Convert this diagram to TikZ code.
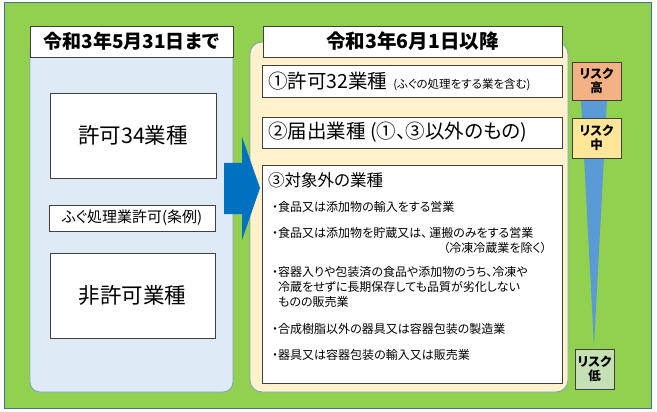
\documentclass[tikz,border=0pt]{standalone}
\usepackage{fontspec}
\setmainfont{Noto Sans CJK JP}[RawFeature=+palt]
\definecolor{bggreen}{HTML}{92D050}
\definecolor{outerblue}{HTML}{41719C}
\definecolor{panelblue}{HTML}{DEEBF7}
\definecolor{panelline}{HTML}{7F9FC7}
\definecolor{panelcream}{HTML}{FFF2CC}
\definecolor{arrowblue}{HTML}{0070C0}
\definecolor{wedgeblue}{HTML}{5B9BD5}
\definecolor{riskhigh}{HTML}{F4B183}
\definecolor{riskmid}{HTML}{FFE699}
\definecolor{risklow}{HTML}{C5E0B4}
\definecolor{boxline}{HTML}{404040}
\newcommand{\fs}[1]{\fontsize{#1}{#1}\selectfont}
\newcommand{\bul}{\makebox[6pt][c]{・}}
\begin{document}
\begin{tikzpicture}[x=1pt,y=-1pt,
  panel/.style={rounded corners=10pt, draw=panelline, line width=0.8pt, inner sep=0pt},
  wbox/.style={draw=boxline, fill=white, line width=0.9pt, inner sep=0pt, align=center},
  riskbox/.style={draw=boxline, line width=0.9pt, inner sep=0pt, align=center, font=\fs{12.5}\bfseries},
  txt/.style={inner sep=0pt, anchor=west},
  btxt/.style={inner sep=0pt, anchor=west, font=\fs{12}}]
\useasboundingbox (0,0) rectangle (657,412);
\node[draw=outerblue, fill=bggreen, line width=1pt, minimum width=647pt, minimum height=405pt, inner sep=0pt] (bg) at (327.5,205.5) {};
% panels
\node[panel, fill=panelblue, minimum width=203pt, minimum height=351pt] (lpanel) at (131.5,216.5) {};
\node[panel, fill=panelcream, rounded corners=12pt, minimum width=318pt, minimum height=350pt] (rpanel) at (409,217) {};
% wedge
\fill[wedgeblue] (580,81) coordinate (w1) -- (608,81) coordinate (w2) -- (594,346) coordinate (w3) -- cycle;
% headers
\node[wbox, minimum width=203pt, minimum height=31pt, font=\fs{19}\bfseries] (lhead) at (131.5,41.5) {令和3年5月31日まで};
\node[wbox, minimum width=299pt, minimum height=31pt, font=\fs{19.5}\bfseries] (rhead) at (412.5,41.5) {令和3年6月1日以降};
% left boxes
\node[wbox, minimum width=166pt, minimum height=85pt, font=\fs{21.5}] (kyoka34) at (133,135.5) {許可34業種};
\node[wbox, minimum width=166pt, minimum height=26pt, font=\fs{15}] (fugu) at (132,218) {ふぐ処理業許可(条例)};
\node[wbox, minimum width=165pt, minimum height=85pt, font=\fs{21.5}] (hikyoka) at (132.5,295.5) {非許可業種};
% right boxes
\node[wbox, minimum width=300pt, minimum height=32pt] (box1) at (412,81) {};
\node[wbox, minimum width=300pt, minimum height=31pt] (box2) at (412,132.5) {};
\node[wbox, minimum width=300pt, minimum height=218pt] (box3) at (412,274) {};
\node[txt] (t1) at (268,81) {\fs{19.5}①許可32業種\hspace{6pt}\fs{11.5}(ふぐの処理をする業を含む)};
\node[txt, font=\fs{19.5}] (t2) at (268,132.5) {②届出業種 (①、③以外のもの)};
\node[txt, font=\fs{16.5}] (t3) at (268,180) {③対象外の業種};
\node[btxt] (b1) at (272,207) {\bul 食品又は添加物の輸入をする営業};
\node[btxt] (b2) at (272,233) {\bul 食品又は添加物を貯蔵又は、\,運搬のみをする営業};
\node[btxt, anchor=east] (b2b) at (547,248) {（冷凍冷蔵業を除く）};
\node[btxt] (b3) at (272,272) {\bul 容器入りや包装済の食品や添加物のうち、冷凍や};
\node[btxt] (b3b) at (278,287) {冷蔵をせずに長期保存しても品質が劣化しない};
\node[btxt] (b3c) at (278,302) {ものの販売業};
\node[btxt] (b4) at (272,329) {\bul 合成樹脂以外の器具又は容器包装の製造業};
\node[btxt] (b5) at (272,355) {\bul 器具又は容器包装の輸入又は販売業};
% risk boxes
\node[riskbox, fill=riskhigh, minimum width=49pt, minimum height=38pt] (rh) at (596.5,81) {リスク\\[1pt]高};
\node[riskbox, fill=riskmid, minimum width=49pt, minimum height=40pt] (rm) at (596.5,138) {リスク\\[1pt]中};
\node[riskbox, fill=risklow, minimum width=39pt, minimum height=40pt] (rl) at (594.5,369) {リスク\\[1pt]低};
% arrow
\fill[arrowblue] (224,163) coordinate (a0) -- (242,163) -- (242,137) -- (260,188) coordinate (atip) -- (242,240) -- (242,214) -- (224,214) -- cycle;
\end{tikzpicture}
\end{document}
